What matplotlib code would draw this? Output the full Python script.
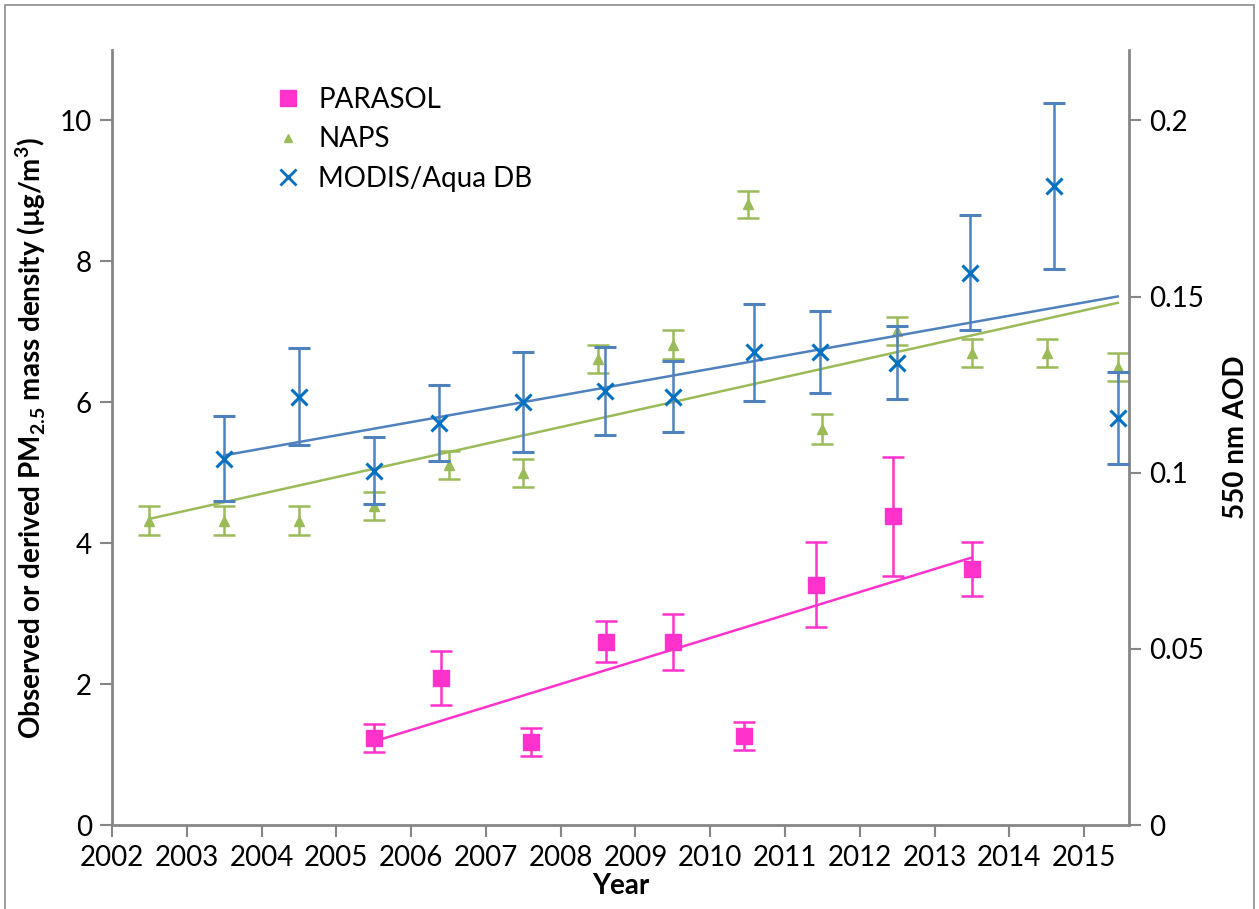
import numpy as np
import matplotlib
matplotlib.use("Agg")
import matplotlib.pyplot as plt
from matplotlib.lines import Line2D
from matplotlib.patches import Rectangle

plt.rcParams['font.family'] = ['Lato', 'DejaVu Sans']
plt.rcParams['mathtext.fontset'] = 'custom'
plt.rcParams['mathtext.rm'] = 'Lato'
plt.rcParams['mathtext.bf'] = 'Lato:bold'

# ---------------- data ----------------
parasol_x = [2005.5, 2006.4, 2007.6, 2008.6, 2009.5, 2010.45, 2011.42, 2012.45, 2013.5]
parasol_y = [1.24, 2.09, 1.18, 2.60, 2.60, 1.26, 3.41, 4.38, 3.63]
parasol_err = [0.20, 0.38, 0.20, 0.29, 0.40, 0.20, 0.60, 0.84, 0.38]

naps_x = [2002.5, 2003.5, 2004.5, 2005.5, 2006.5, 2007.5, 2008.5, 2009.5,
          2010.5, 2011.5, 2012.5, 2013.5, 2014.5, 2015.45]
naps_y = [4.32, 4.32, 4.32, 4.53, 5.11, 5.00, 6.61, 6.82, 8.81, 5.62, 7.01, 6.70, 6.70, 6.50]
naps_err = [0.21, 0.21, 0.21, 0.20, 0.20, 0.20, 0.20, 0.20, 0.19, 0.21, 0.20, 0.20, 0.20, 0.20]

modis_x = [2003.5, 2004.5, 2005.5, 2006.37, 2007.5, 2008.59, 2009.5, 2010.59,
           2011.47, 2012.5, 2013.48, 2014.6, 2015.45]
modis_aod = [0.1040, 0.1216, 0.1006, 0.1142, 0.1202, 0.1232, 0.1216, 0.1342,
             0.1342, 0.1312, 0.1568, 0.1814, 0.1156]
modis_err = [0.0120, 0.0138, 0.0096, 0.0108, 0.0142, 0.0124, 0.0100, 0.0138,
             0.0116, 0.0104, 0.0164, 0.0236, 0.0130]

year_ticks = list(range(2002, 2016))
left_ticks = [0, 2, 4, 6, 8, 10]
right_ticks = [0, 0.05, 0.1, 0.15, 0.2]
right_labels = ['0', '0.05', '0.1', '0.15', '0.2']

# ---------------- style ----------------
c_par = '#FF33CC'
c_naps = '#9BBB59'
c_mod_m = '#0070C0'
c_mod_l = '#4F81BD'
c_axis = '#868686'
fs = 20

fig = plt.figure(figsize=(12.59, 9.09), dpi=100)
fig.patches.append(Rectangle((5 / 1259, -0.01), 1249 / 1259, 1 - 5 / 909 + 0.01,
                             transform=fig.transFigure, fill=False,
                             edgecolor='#8C8C8C', linewidth=1.2))
ax = fig.add_axes([112 / 1259, 1 - 825 / 909, (1129 - 112) / 1259, (825 - 50) / 909])
ax2 = ax.twinx()

# trend lines
def trend(a, x, y, color):
    x = np.asarray(x); y = np.asarray(y)
    p = np.polyfit(x, y, 1)
    xs = np.array([x.min(), x.max()])
    a.plot(xs, np.polyval(p, xs), color=color, lw=1.8, zorder=2)

trend(ax, naps_x, naps_y, c_naps)
trend(ax, parasol_x, parasol_y, c_par)
trend(ax2, modis_x, modis_aod, c_mod_l)

ax.errorbar(naps_x, naps_y, yerr=naps_err, fmt='^', color=c_naps, ms=7,
            ecolor=c_naps, elinewidth=1.8, capsize=8, capthick=1.8, zorder=3)
ax.errorbar(parasol_x, parasol_y, yerr=parasol_err, fmt='s', color=c_par, ms=11,
            ecolor=c_par, elinewidth=1.8, capsize=8, capthick=1.8, zorder=4)
ax2.errorbar(modis_x, modis_aod, yerr=modis_err, fmt='x', color=c_mod_m, ms=11, mew=2.2,
             ecolor=c_mod_l, elinewidth=1.8, capsize=8, capthick=1.8, zorder=3)

ax.set_xlim(2002, 2015.6)
ax.set_ylim(0, 11)
ax2.set_ylim(0, 0.22)

ax.set_xticks(year_ticks)
ax.set_xticklabels([str(y) for y in year_ticks], fontsize=fs)
ax.set_yticks(left_ticks)
ax.set_yticklabels([str(v) for v in left_ticks], fontsize=fs)
ax2.set_yticks(right_ticks)
ax2.set_yticklabels(right_labels, fontsize=fs)

for a in (ax, ax2):
    a.spines['top'].set_visible(False)
    for s in ('left', 'right', 'bottom'):
        a.spines[s].set_color(c_axis)
        a.spines[s].set_linewidth(2)
    a.tick_params(axis='both', direction='out', length=8.5, width=1.5,
                  color=c_axis, pad=6)
ax.spines['right'].set_visible(False)
ax2.spines['left'].set_visible(False)
ax2.spines['bottom'].set_visible(False)

ax.set_xlabel('Year', fontsize=fs, fontweight='bold', labelpad=1)
ax.set_ylabel(r'Observed or derived PM$_{\mathbf{2.5}}$ mass density (µg/m$^{\mathbf{3}}$)',
              fontsize=fs, fontweight='bold', labelpad=8)
ax2.set_ylabel('550 nm AOD', fontsize=fs, fontweight='bold', labelpad=14)

handles = [
    Line2D([], [], marker='s', ls='none', color=c_par, ms=11),
    Line2D([], [], marker='^', ls='none', color=c_naps, ms=6),
    Line2D([], [], marker='x', ls='none', color=c_mod_m, ms=11, mew=2),
]
ax2.legend(handles, ['PARASOL', 'NAPS', 'MODIS/Aqua DB'], loc='upper left',
           bbox_to_anchor=(0.148, 0.967), frameon=False, fontsize=fs,
           handlelength=1.0, handletextpad=0.61, labelspacing=0.49, borderaxespad=0)

fig.savefig('out.png', dpi=100)
